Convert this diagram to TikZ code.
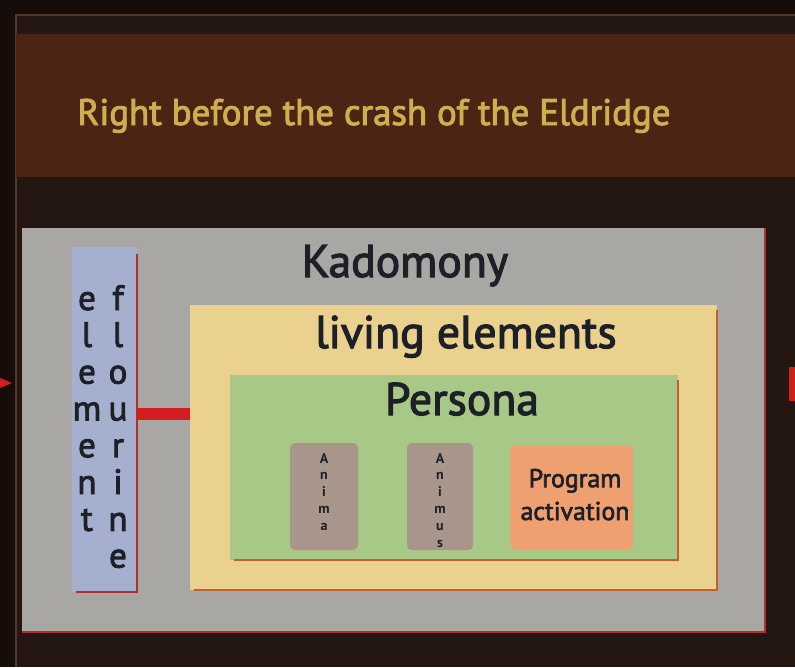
\documentclass[tikz,border=0pt]{standalone}
\usepackage{fontspec}
\setmainfont{PT Sans}
\newfontfamily\semisans[FakeBold=2.5]{PT Sans}
\usetikzlibrary{fit,positioning}
\definecolor{NightBrown}{RGB}{22,13,10}
\definecolor{FrameBrown}{RGB}{36,22,17}
\definecolor{RimBrown}{RGB}{84,56,40}
\definecolor{BannerBrown}{RGB}{76,36,20}
\definecolor{TitleGold}{RGB}{206,174,78}
\definecolor{PanelGray}{RGB}{168,167,163}
\definecolor{FluorBlue}{RGB}{165,176,206}
\definecolor{LinkRed}{RGB}{210,30,30}
\definecolor{EdgeRed}{RGB}{176,48,48}
\definecolor{LivingYellow}{RGB}{234,210,142}
\definecolor{PersonaGreen}{RGB}{168,200,136}
\definecolor{EdgeOrange}{RGB}{196,96,48}
\definecolor{AnimaTaupe}{RGB}{168,150,138}
\definecolor{ProgOrange}{RGB}{238,160,112}
\definecolor{InkDark}{RGB}{30,32,40}

\begin{document}
\begin{tikzpicture}[x=0.03cm,y=-0.03cm,
    box/.style={inner sep=0pt,outer sep=0pt},
    rim/.style={line width=2.5pt},
    big/.style={anchor=base,text=InkDark,font=\semisans\fontsize{39}{42}\selectfont},
    letter/.style={anchor=base,text=InkDark,font=\semisans\fontsize{30}{30}\selectfont},
    tiny/.style={anchor=base,text=InkDark,font=\bfseries\fontsize{12}{12}\selectfont},
    link/.style={LinkRed,line width=10pt}]
  \useasboundingbox (0,0) rectangle (795,667);
  \fill[NightBrown] (0,0) rectangle (795,667);
  \fill[FrameBrown] (16,15) rectangle (795,667);
  \draw[RimBrown,line width=1.5pt] (16,667) -- (16,15) -- (795,15);

  % banner
  \fill[BannerBrown] (16,34) rectangle (795,177);
  \node[anchor=base,text=TitleGold,font=\semisans\fontsize{31.5}{36}\selectfont]
    (title) at (374,125) {Right before the crash of the Eldridge};

  % nested panels
  \node[box,fill=PanelGray,fit={(22,228) (765,632)}] (kadomony) {};
  \node[box,fill=FluorBlue,fit={(72,247) (137,592)}] (flourine) {};
  \node[box,fill=LivingYellow,fit={(190,305) (717,590)}] (living) {};
  \node[box,fill=PersonaGreen,fit={(230,375) (678,560)}] (persona) {};
  \draw[rim,EdgeRed] (kadomony.north east) -- (kadomony.south east) -- (kadomony.south west);
  \draw[rim,EdgeRed] ([yshift=-6pt]flourine.north east) -- (flourine.south east)
    -- ([xshift=3pt]flourine.south west);
  \foreach \n in {living,persona}
    \draw[rim,EdgeOrange] ([yshift=-4pt]\n.north east) -- (\n.south east)
      -- ([xshift=3pt]\n.south west);

  \node[big] (kadlabel) at (405,277) {Kadomony};
  \node[big] (livlabel) at (466,348) {living elements};
  \node[big] (perlabel) at (462,415) {Persona};

  % element / flourine
  \foreach \ch [count=\i from 0] in {e,l,e,m,e,n,t}
    \node[letter] (el-\i) at (87,{310+36.8*\i}) {\ch};
  \foreach \ch [count=\i from 0] in {f,l,o,u,r,i,n,e}
    \node[letter] (fl-\i) at (118,{310+36.8*\i}) {\ch};

  \coordinate (linky) at (0,414);
  \draw[link] (flourine.east |- linky) -- (living.west |- linky);

  % inner boxes
  \node[box,fill=AnimaTaupe,rounded corners=4pt,fit={(290,443) (358,550)}] (anima) {};
  \node[box,fill=AnimaTaupe,rounded corners=4pt,fit={(407,443) (473,550)}] (animus) {};
  \node[box,fill=ProgOrange,rounded corners=6pt,fit={(510,445) (633,550)}] (program) {};
  \foreach \ch [count=\i from 0] in {A,n,i,m,a}
    \node[tiny] (an-\i) at (anima.north |- 0,{463+16.8*\i}) {\ch};
  \foreach \ch [count=\i from 0] in {A,n,i,m,u,s}
    \node[tiny] (as-\i) at (animus.north |- 0,{463+16.8*\i}) {\ch};
  \node[anchor=base,text=InkDark,align=center,font=\semisans\fontsize{22}{28}\selectfont]
    (proglabel) at (575,520) {Program\\activation};

  % cut-off markers at the edges
  \fill[LinkRed] (0,378) -- (12,383) -- (0,388) -- cycle;
  \fill[LinkRed] (789,367) rectangle (795,401);
\end{tikzpicture}
\end{document}
